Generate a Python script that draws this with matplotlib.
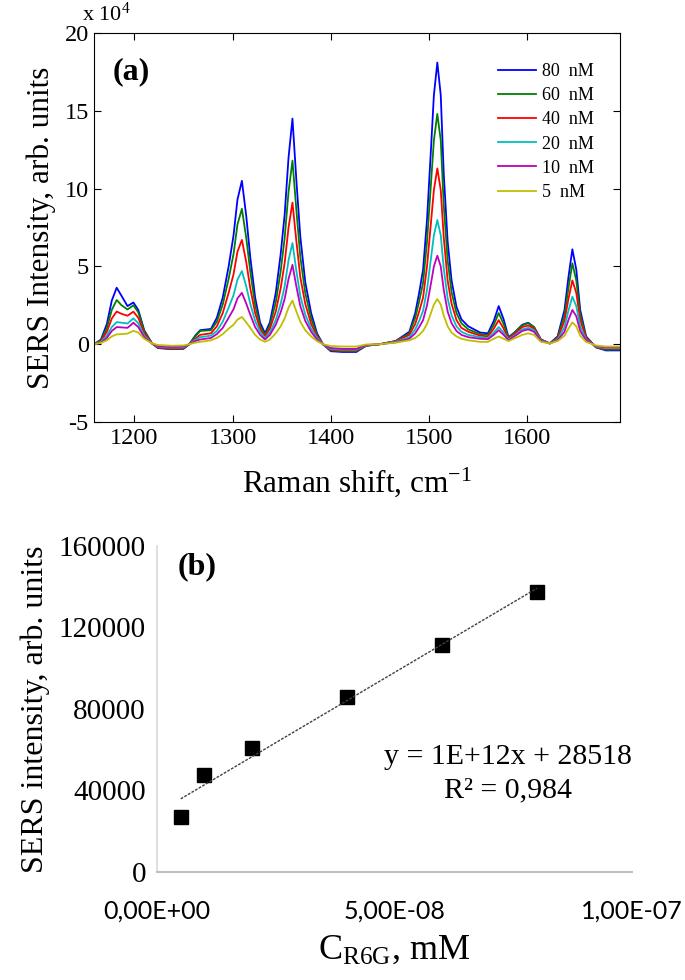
import matplotlib
matplotlib.use("Agg")
import matplotlib.pyplot as plt
import numpy as np

plt.rcParams['font.family'] = ['Liberation Serif', 'DejaVu Serif']
plt.rcParams['mathtext.fontset'] = 'custom'
plt.rcParams['mathtext.rm'] = 'Liberation Serif'
plt.rcParams['mathtext.it'] = 'Liberation Serif:italic'
plt.rcParams['axes.unicode_minus'] = False

# ---- panel (a): SERS spectra, intensity in units of 1e4 ----
shift = [1159, 1166, 1172, 1177, 1182, 1187, 1193, 1199, 1204, 1210,
         1218, 1224, 1238, 1250, 1256, 1262, 1267, 1278, 1284, 1290,
         1296, 1301, 1305, 1309.5, 1314, 1318, 1323, 1328, 1333, 1338,
         1344, 1349, 1353, 1357, 1361, 1365, 1369, 1374, 1380, 1386,
         1392, 1400, 1412, 1426, 1436, 1450, 1466, 1480, 1486, 1490,
         1494, 1498, 1502, 1505, 1508.5, 1512, 1515, 1519, 1523, 1528,
         1533, 1540, 1552, 1560,
         1566, 1571, 1576, 1581, 1588, 1595, 1601, 1607, 1614, 1623,
         1631, 1638, 1642, 1646, 1650, 1654, 1660, 1670, 1680, 1695]

i80 = [0.0, 0.3, 1.3, 2.8, 3.63, 3.1, 2.45, 2.68, 2.2, 0.9,
       0.05, -0.25, -0.32, -0.3, 0.0, 0.55, 0.9, 0.98, 1.7, 3.0,
       5.0, 7.0, 9.3, 10.5, 8.2, 5.6, 3.0, 1.4, 0.7, 1.4,
       3.3, 5.8, 8.3, 12.0, 14.5, 10.5, 6.9, 4.0, 2.0, 0.7,
       0.0, -0.45, -0.5, -0.5, -0.1, 0.0, 0.2, 0.8, 2.0, 3.3,
       4.8, 8.0, 12.5, 16.0, 18.1, 16.0, 11.0, 6.6, 4.1, 2.4,
       1.6, 1.15, 0.75, 0.7,
       1.5, 2.45, 1.6, 0.45, 0.8, 1.25, 1.38, 1.1, 0.3, 0.05,
       0.5, 2.2, 4.3, 6.1, 4.8, 2.2, 0.5, -0.2, -0.4, -0.4]

i60 = [0.0, 0.25, 1.05, 2.2, 2.84, 2.5, 2.23, 2.5, 2.05, 0.85,
       0.05, -0.22, -0.3, -0.28, 0.0, 0.5, 0.85, 0.9, 1.45, 2.55,
       4.2, 5.8, 7.7, 8.7, 6.8, 4.7, 2.5, 1.2, 0.6, 1.2,
       2.7, 4.7, 6.8, 9.8, 11.8, 8.6, 5.6, 3.3, 1.65, 0.6,
       0.0, -0.4, -0.45, -0.45, -0.1, 0.0, 0.2, 0.7, 1.7, 2.75,
       3.95, 6.6, 10.3, 13.1, 14.8, 13.1, 9.0, 5.4, 3.35, 2.0,
       1.35, 0.95, 0.65, 0.6,
       1.25, 2.0, 1.3, 0.4, 0.8, 1.22, 1.35, 1.1, 0.3, 0.05,
       0.45, 1.85, 3.6, 5.2, 4.1, 1.9, 0.45, -0.2, -0.35, -0.35]

i40 = [0.0, 0.2, 0.8, 1.65, 2.1, 1.95, 1.83, 2.09, 1.7, 0.7,
       0.05, -0.2, -0.28, -0.25, 0.0, 0.35, 0.6, 0.7, 1.15, 2.0,
       3.3, 4.5, 5.95, 6.7, 5.25, 3.6, 2.0, 1.0, 0.5, 1.0,
       2.1, 3.6, 5.2, 7.5, 9.1, 6.6, 4.3, 2.6, 1.3, 0.5,
       0.0, -0.35, -0.4, -0.4, -0.08, 0.0, 0.18, 0.6, 1.3, 2.1,
       3.0, 5.0, 7.8, 9.9, 11.3, 9.9, 6.9, 4.1, 2.6, 1.55,
       1.05, 0.8, 0.55, 0.5,
       1.0, 1.55, 1.0, 0.35, 0.7, 1.1, 1.2, 1.0, 0.28, 0.05,
       0.38, 1.5, 2.9, 4.1, 3.3, 1.55, 0.4, -0.18, -0.3, -0.3]

i20 = [0.0, 0.15, 0.55, 1.1, 1.42, 1.38, 1.33, 1.66, 1.35, 0.55,
       0.05, -0.15, -0.22, -0.2, 0.0, 0.28, 0.45, 0.55, 0.85, 1.45,
       2.35, 3.15, 4.15, 4.7, 3.7, 2.6, 1.5, 0.8, 0.4, 0.75,
       1.55, 2.6, 3.7, 5.4, 6.5, 4.7, 3.1, 1.9, 1.0, 0.4,
       0.0, -0.3, -0.35, -0.35, -0.07, 0.0, 0.15, 0.45, 0.95, 1.5,
       2.15, 3.5, 5.5, 7.0, 7.98, 7.0, 4.9, 2.95, 1.85, 1.15,
       0.8, 0.6, 0.45, 0.4,
       0.75, 1.1, 0.75, 0.3, 0.6, 0.95, 1.05, 0.9, 0.25, 0.05,
       0.3, 1.1, 2.15, 3.05, 2.45, 1.15, 0.3, -0.15, -0.25, -0.25]

i10 = [0.0, 0.1, 0.4, 0.85, 1.1, 1.08, 1.05, 1.38, 1.1, 0.45,
       0.05, -0.12, -0.18, -0.15, 0.0, 0.2, 0.3, 0.4, 0.65, 1.05,
       1.7, 2.25, 2.95, 3.3, 2.6, 1.9, 1.1, 0.6, 0.3, 0.6,
       1.25, 2.05, 2.9, 4.2, 5.1, 3.7, 2.45, 1.5, 0.8, 0.3,
       0.0, -0.25, -0.3, -0.3, -0.05, 0.0, 0.12, 0.35, 0.7, 1.1,
       1.55, 2.5, 3.9, 5.0, 5.69, 5.0, 3.5, 2.1, 1.35, 0.85,
       0.6, 0.45, 0.35, 0.32,
       0.6, 0.9, 0.6, 0.25, 0.55, 0.85, 0.95, 0.8, 0.22, 0.05,
       0.25, 0.8, 1.55, 2.2, 1.8, 0.85, 0.25, -0.12, -0.2, -0.2]

i5 = [0.0, 0.08, 0.25, 0.5, 0.63, 0.65, 0.68, 0.86, 0.75, 0.35,
      0.05, -0.05, -0.1, -0.08, 0.0, 0.1, 0.15, 0.25, 0.4, 0.65,
      1.0, 1.25, 1.58, 1.75, 1.4, 1.05, 0.6, 0.3, 0.15, 0.3,
      0.7, 1.15, 1.65, 2.35, 2.8, 2.1, 1.45, 0.9, 0.5, 0.2,
      0.0, -0.12, -0.15, -0.15, -0.02, 0.0, 0.1, 0.25, 0.4, 0.6,
      0.85, 1.3, 2.0, 2.55, 2.9, 2.55, 1.85, 1.15, 0.75, 0.5,
      0.35, 0.25, 0.15, 0.15,
      0.35, 0.5, 0.35, 0.2, 0.4, 0.6, 0.7, 0.6, 0.15, 0.05,
      0.2, 0.55, 1.0, 1.4, 1.15, 0.55, 0.15, -0.08, -0.15, -0.15]

labels = ['80  nM', '60  nM', '40  nM', '20  nM', '10  nM', '5  nM']
colors = ['#0000ff', '#008000', '#ff0000', '#00bfbf', '#bf00bf', '#bfbf00']
spectra = [i80, i60, i40, i20, i10, i5]

# ---- panel (b): calibration ----
conc = [5e-9, 1e-8, 2e-8, 4e-8, 6e-8, 8e-8]
peak = [26800, 47500, 60800, 86000, 111500, 137300]
conc_ticks = ['0,00E+00', '5,00E-08', '1,00E-07']


fig = plt.figure(figsize=(6.85, 9.8), dpi=100)

ax1 = fig.add_axes([0.1378, 0.5694, 0.768, 0.3969])
for y, c, lab in zip(spectra, colors, labels):
    ax1.plot(shift, y, color=c, lw=1.3, label=lab)
ax1.set_xlim(1159.3, 1695)
ax1.set_ylim(-5, 20)
ax1.set_xticks([1200, 1300, 1400, 1500, 1600])
ax1.set_yticks([-5, 0, 5, 10, 15, 20])
ax1.tick_params(direction='in', top=True, right=True, length=5, labelsize=17.5, pad=4)
ax1.set_xlabel('Raman shift, cm$^{-1}$', fontsize=22.5, labelpad=12)
ax1.set_ylabel('SERS Intensity, arb. units', fontsize=22.5, labelpad=6)
ax1.text(-0.023, 1.018, 'x 10$^{4}$', transform=ax1.transAxes, fontsize=16, va='bottom', ha='left')
ax1.text(0.035, 0.90, '(a)', transform=ax1.transAxes, fontsize=23, fontweight='bold', va='center')
ax1.legend(loc='upper right', bbox_to_anchor=(0.98, 0.965), frameon=False, fontsize=13,
           handlelength=2.1, handletextpad=0.3, labelspacing=0.4)

ax2 = fig.add_axes([0.2292, 0.1106, 0.6934, 0.3322])
ax2.plot(conc, peak, 's', color='black', ms=10)
k, b = np.polyfit(conc, peak, 1)
xf = np.array([conc[0], conc[-1]])
ax2.plot(xf, k * xf + b, color='#404040', lw=1, linestyle=(0, (2, 1)))
ax2.set_xlim(0, 1e-7)
ax2.set_ylim(0, 160000)
ax2.set_xticks([0, 5e-8, 1e-7])
ax2.set_yticks([0, 40000, 80000, 120000, 160000])
ax2.tick_params(length=0, labelsize=21, pad=8)
ax2.tick_params(axis='x', pad=20, labelsize=18)
ax2.set_xticklabels(conc_ticks, family='Lato', fontsize=18)
for s in ['top', 'right']:
    ax2.spines[s].set_visible(False)
ax2.spines['left'].set_color('#d9d9d9')
ax2.spines['bottom'].set_color('#bfbfbf')
ax2.spines['left'].set_linewidth(1.2)
ax2.spines['bottom'].set_linewidth(1.5)
ax2.set_xlabel('C$_{\\mathrm{R6G}}$, mM', fontsize=26, labelpad=8)
ax2.set_ylabel('SERS intensity, arb. units', fontsize=23, labelpad=6)
ax2.text(0.044, 0.937, '(b)', transform=ax2.transAxes, fontsize=23, fontweight='bold', va='center')
ax2.text(0.739, 0.352, 'y = 1E+12x + 28518', transform=ax2.transAxes, fontsize=21.5,
         ha='center', va='center')
ax2.text(0.739, 0.25, 'R² = 0,984', transform=ax2.transAxes, fontsize=21.5,
         ha='center', va='center')

fig.savefig('out.png', dpi=100)
